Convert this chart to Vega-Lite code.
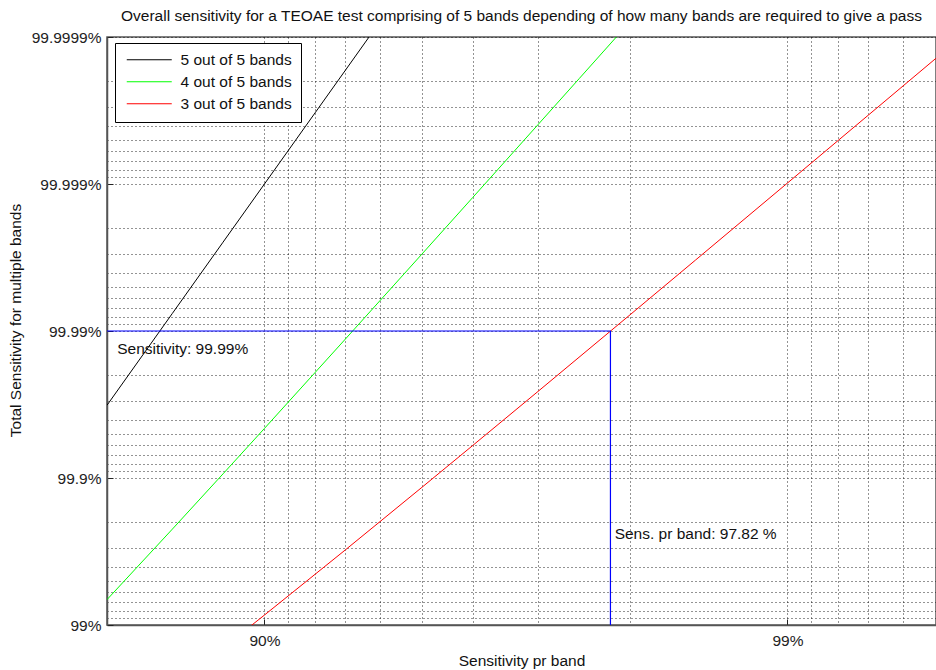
{
  "$schema": "https://vega.github.io/schema/vega-lite/v6.json",
  "width": 829,
  "height": 588,
  "autosize": {"type": "none"},
  "padding": {"left": 107, "top": 37, "right": 0, "bottom": 45},
  "background": "#ffffff",
  "config": {
    "font": "Liberation Sans",
    "view": {"stroke": "#555555", "strokeWidth": 1.5},
    "axis": {"labelFont": "Liberation Sans", "titleFont": "Liberation Sans", "labelFontSize": 15.5, "titleFontSize": 15.5, "titleFontWeight": "normal", "labelColor": "#222222", "titleColor": "#111111"}
  },
  "title": {"text": "Overall sensitivity for a TEOAE test comprising of 5 bands depending of how many bands are required to give a pass", "fontSize": 15.5, "fontWeight": "normal", "font": "Liberation Sans", "color": "#111111", "anchor": "middle", "offset": 6},
  "datasets": {
    "curves": [
      {"m": 0.2, "t": 3.2e-4, "c": "5 out of 5 bands"},
      {"m": 0.15, "t": 7.594e-5, "c": "5 out of 5 bands"},
      {"m": 0.12, "t": 2.488e-5, "c": "5 out of 5 bands"},
      {"m": 0.1, "t": 1e-5, "c": "5 out of 5 bands"},
      {"m": 0.08, "t": 3.277e-6, "c": "5 out of 5 bands"},
      {"m": 0.07, "t": 1.681e-6, "c": "5 out of 5 bands"},
      {"m": 0.06, "t": 7.776e-7, "c": "5 out of 5 bands"},
      {"m": 0.2, "t": 6.72e-3, "c": "4 out of 5 bands"},
      {"m": 0.15, "t": 2.2275e-3, "c": "4 out of 5 bands"},
      {"m": 0.12, "t": 9.373e-4, "c": "4 out of 5 bands"},
      {"m": 0.1, "t": 4.6e-4, "c": "4 out of 5 bands"},
      {"m": 0.07, "t": 1.133e-4, "c": "4 out of 5 bands"},
      {"m": 0.05, "t": 3.0e-5, "c": "4 out of 5 bands"},
      {"m": 0.04, "t": 1.239e-5, "c": "4 out of 5 bands"},
      {"m": 0.03, "t": 3.953e-6, "c": "4 out of 5 bands"},
      {"m": 0.025, "t": 1.914e-6, "c": "4 out of 5 bands"},
      {"m": 0.02, "t": 7.87e-7, "c": "4 out of 5 bands"},
      {"m": 0.12, "t": 1.4319e-2, "c": "3 out of 5 bands"},
      {"m": 0.1, "t": 8.56e-3, "c": "3 out of 5 bands"},
      {"m": 0.07, "t": 3.08e-3, "c": "3 out of 5 bands"},
      {"m": 0.05, "t": 1.158e-3, "c": "3 out of 5 bands"},
      {"m": 0.04, "t": 6.022e-4, "c": "3 out of 5 bands"},
      {"m": 0.03, "t": 2.58e-4, "c": "3 out of 5 bands"},
      {"m": 0.02, "t": 7.762e-5, "c": "3 out of 5 bands"},
      {"m": 0.015, "t": 3.299e-5, "c": "3 out of 5 bands"},
      {"m": 0.01, "t": 9.85e-6, "c": "3 out of 5 bands"},
      {"m": 0.007, "t": 3.394e-6, "c": "3 out of 5 bands"},
      {"m": 0.0052, "t": 1.395e-6, "c": "3 out of 5 bands"}
    ],
    "marker": [
      {"m": 0.2, "t": 1e-4, "o": 1},
      {"m": 0.0218, "t": 1e-4, "o": 2},
      {"m": 0.0218, "t": 1e-2, "o": 3}
    ],
    "notes": [
      {"m": 0.1912, "t": 1.33e-4, "label": "Sensitivity: 99.99%"},
      {"m": 0.0214, "t": 2.4e-3, "label": "Sens. pr band: 97.82 %"}
    ]
  },
  "layer": [
    {
      "data": {"name": "curves"},
      "mark": {"type": "line", "strokeWidth": 1, "clip": true},
      "encoding": {
        "x": {"field": "m", "type": "quantitative",
          "scale": {"type": "log", "domain": [0.2, 0.0052], "nice": false, "zero": false},
          "axis": {"title": "Sensitivity pr band",
            "values": [0.1, 0.09, 0.08, 0.07, 0.06, 0.05, 0.04, 0.03, 0.02, 0.01, 0.009, 0.008, 0.007, 0.006],
            "labelExpr": "abs(log(datum.value)/LN10 - round(log(datum.value)/LN10)) < 0.001 ? format(100 - 100*datum.value, '.6~f') + '%' : ''",
            "grid": true, "gridDash": [1, 3], "gridColor": "#000000", "gridOpacity": 0.85, "gridWidth": 1,
            "domainColor": "#555555", "domainWidth": 1.5,
            "tickSize": -6, "tickColor": "#222222",
            "tickOpacity": {"condition": {"test": "abs(log(datum.value)/LN10 - round(log(datum.value)/LN10)) < 0.001", "value": 1}, "value": 0},
            "labelPadding": 14, "titlePadding": 5, "labelFlush": false, "labelOverlap": false}},
        "y": {"field": "t", "type": "quantitative",
          "scale": {"type": "log", "domain": [0.01, 1e-6], "nice": false, "zero": false},
          "axis": {"title": "Total Sensitivity for multiple bands",
            "values": [0.01, 0.009, 0.008, 0.007, 0.006, 0.005, 0.004, 0.003, 0.002, 0.001, 0.0009, 0.0008, 0.0007, 0.0006, 0.0005, 0.0004, 0.0003, 0.0002, 0.0001, 9e-5, 8e-5, 7e-5, 6e-5, 5e-5, 4e-5, 3e-5, 2e-5, 1e-5, 9e-6, 8e-6, 7e-6, 6e-6, 5e-6, 4e-6, 3e-6, 2e-6, 1e-6],
            "labelExpr": "abs(log(datum.value)/LN10 - round(log(datum.value)/LN10)) < 0.001 ? format(100 - 100*datum.value, '.6~f') + '%' : ''",
            "grid": true, "gridDash": [1, 3], "gridColor": "#000000", "gridOpacity": 0.85, "gridWidth": 1,
            "domainColor": "#555555", "domainWidth": 1.5,
            "tickSize": -6, "tickColor": "#222222",
            "tickOpacity": {"condition": {"test": "abs(log(datum.value)/LN10 - round(log(datum.value)/LN10)) < 0.001", "value": 1}, "value": 0},
            "labelPadding": 12, "labelFlush": false, "labelOverlap": false,
            "titleX": -92, "titleY": 283, "titleBaseline": "middle", "titleAngle": -90}},
        "color": {"field": "c", "type": "nominal",
          "scale": {"domain": ["5 out of 5 bands", "4 out of 5 bands", "3 out of 5 bands"], "range": ["#000000", "#00ff00", "#ff0000"]},
          "legend": {"title": null, "orient": "none", "legendX": 8, "legendY": 6,
            "strokeColor": "#000000", "fillColor": "#ffffff", "padding": 9,
            "symbolType": "M-1,0L8,0", "symbolSize": 100, "symbolStrokeWidth": 1,
            "labelFontSize": 15.5, "labelFont": "Liberation Sans", "labelColor": "#111111",
            "labelOffset": 41, "rowPadding": 5}}
      }
    },
    {
      "data": {"name": "marker"},
      "mark": {"type": "line", "color": "#0000ff", "strokeWidth": 1.2, "clip": true},
      "encoding": {
        "x": {"field": "m", "type": "quantitative"},
        "y": {"field": "t", "type": "quantitative"},
        "order": {"field": "o", "type": "quantitative"}
      }
    },
    {
      "data": {"name": "notes"},
      "mark": {"type": "text", "align": "left", "baseline": "middle", "fontSize": 15.5, "font": "Liberation Sans", "color": "#111111"},
      "encoding": {
        "x": {"field": "m", "type": "quantitative"},
        "y": {"field": "t", "type": "quantitative"},
        "text": {"field": "label"}
      }
    }
  ]
}
